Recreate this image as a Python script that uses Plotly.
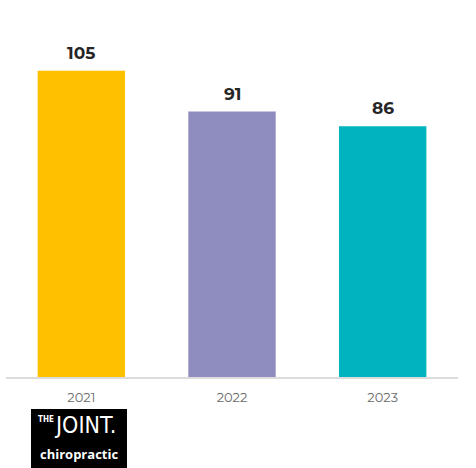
import plotly.graph_objects as go

years = ["2021", "2022", "2023"]
values = [105, 91, 86]
colors = ["#FFC000", "#8F8CBF", "#00B3BE"]

W, H = 476, 468
ML, MR, MT, MB = 6, 18, 27, 91
PW, PH = W - ML - MR, H - MT - MB


def px(x):
    return (x - ML) / PW


def py(y):
    return (H - MB - y) / PH


fig = go.Figure(
    go.Bar(
        x=years,
        y=values,
        marker=dict(color=colors, line=dict(width=0)),
        hoverinfo="skip",
    )
)

# Value labels above each bar (category index positions on the x axis)
annotations = [
    dict(
        x=i, y=v, xref="x", yref="y", text=f"<b>{v}</b>",
        showarrow=False, yanchor="bottom", yshift=6,
        font=dict(family="Montserrat, Open Sans, sans-serif", size=17, color="#262626"),
    )
    for i, v in enumerate(values)
]

# Company badge under the first category
annotations += [
    dict(x=px(36), y=py(419), xref="paper", yref="paper", text="<b>THE</b>",
         showarrow=False, xanchor="left", yanchor="middle",
         font=dict(family="Liberation Sans Narrow, DejaVu Sans Condensed, sans-serif", size=8, color="white")),
    dict(x=px(52), y=py(425), xref="paper", yref="paper", text="JOINT.",
         showarrow=False, xanchor="left", yanchor="middle",
         font=dict(family="Liberation Sans Narrow, DejaVu Sans Condensed, sans-serif", size=23, color="white")),
    dict(x=px(79), y=py(454), xref="paper", yref="paper", text="<b>chiropractic</b>",
         showarrow=False, xanchor="center", yanchor="middle",
         font=dict(family="Open Sans, sans-serif", size=13, color="white")),
]

fig.update_layout(
    width=W, height=H,
    margin=dict(l=ML, r=MR, t=MT, b=MB, pad=0),
    paper_bgcolor="white", plot_bgcolor="white",
    bargap=0.42,
    showlegend=False,
    xaxis=dict(
        type="category", range=[-0.5, 2.5], showgrid=False,
        showline=True, linecolor="#dcdcdc", linewidth=1.5,
        ticks="", ticklabelstandoff=8,
        tickfont=dict(family="Montserrat, Open Sans, sans-serif", size=13, color="#6b6b6b"),
        fixedrange=True,
    ),
    yaxis=dict(range=[0, 120], visible=False, fixedrange=True),
    shapes=[
        dict(type="rect", xref="paper", yref="paper",
             x0=px(31), x1=px(127), y0=py(470), y1=py(409),
             fillcolor="black", line=dict(width=0), layer="above"),
    ],
    annotations=annotations,
)

fig.write_html("out.html")
